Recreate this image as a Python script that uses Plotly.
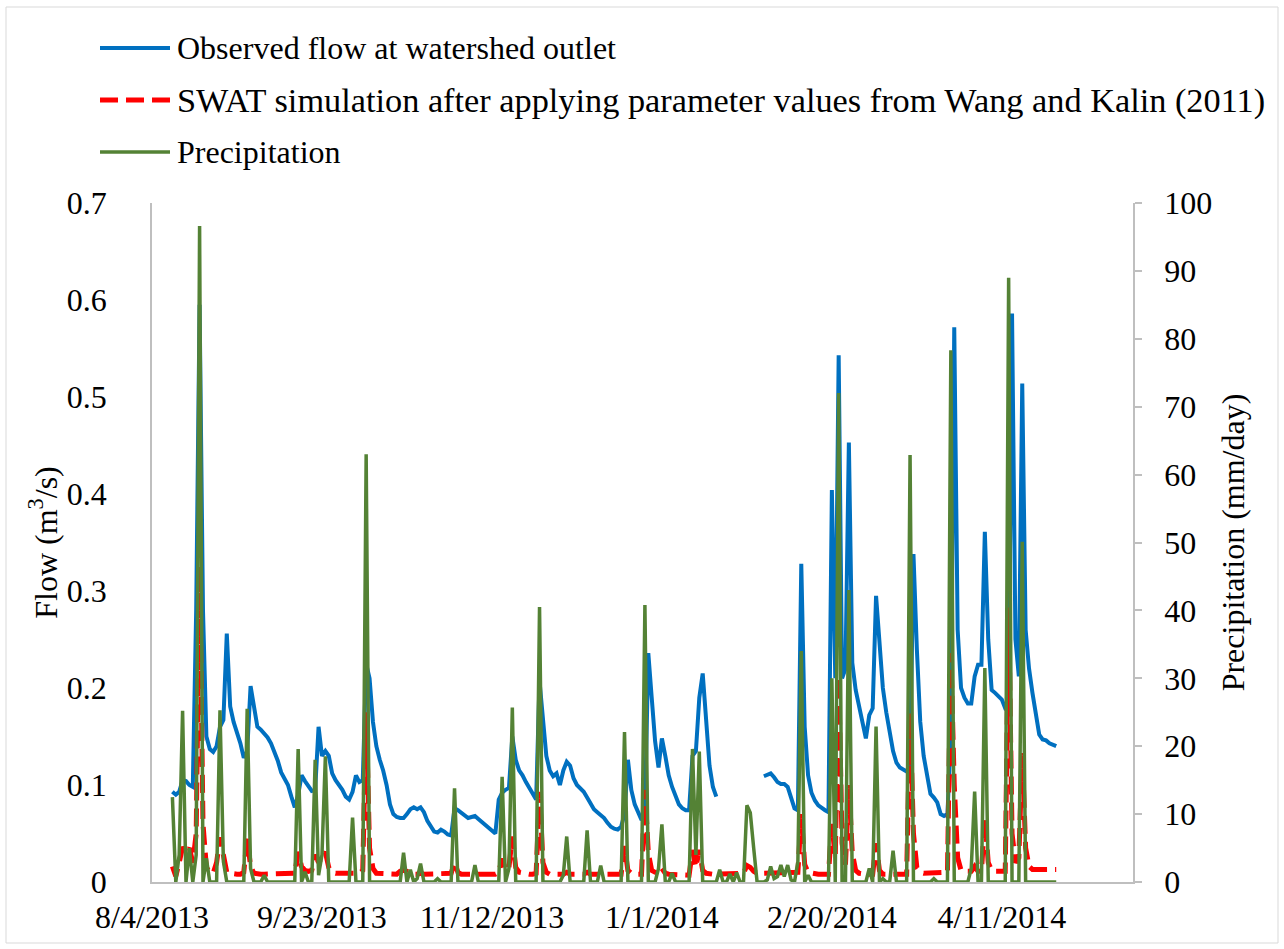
import pandas as pd
import plotly.graph_objects as go

# ---------------- data (daily, starting 8/10/2013) ----------------
start_date = "2013-08-10"

flow_obs = [
    0.093, 0.090, 0.093, 0.105, 0.104, 0.100, 0.098, 0.280, 0.595, 0.280,
    0.150, 0.137, 0.134, 0.140, 0.160, 0.167, 0.256, 0.181, 0.165, 0.155,
    0.143, 0.128, 0.135, 0.202, 0.180, 0.160, 0.157, 0.153, 0.149, 0.143,
    0.135, 0.125, 0.113, 0.107, 0.100, 0.088, 0.077, 0.090, 0.110, 0.104,
    0.099, 0.094, 0.095, 0.160, 0.130, 0.135, 0.130, 0.112, 0.105, 0.100,
    0.095, 0.088, 0.085, 0.093, 0.110, 0.103, 0.105, 0.225, 0.210, 0.165,
    0.140, 0.126, 0.115, 0.100, 0.080, 0.070, 0.067, 0.066, 0.066, 0.070,
    0.075, 0.077, 0.075, 0.077, 0.072, 0.063, 0.057, 0.052, 0.051, 0.054,
    0.052, 0.049, 0.048, 0.076, 0.074, 0.071, 0.068, 0.066, 0.067, 0.068,
    0.065, 0.062, 0.059, 0.056, 0.053, 0.050, 0.085, 0.092, 0.095, 0.097,
    0.150, 0.126, 0.115, 0.110, 0.103, 0.097, 0.091, 0.085, 0.207, 0.170,
    0.130, 0.115, 0.109, 0.112, 0.100, 0.115, 0.124, 0.120, 0.107, 0.100,
    0.096, 0.093, 0.087, 0.080, 0.075, 0.072, 0.069, 0.066, 0.061, 0.057,
    0.055, 0.054, 0.057, 0.070, 0.126, 0.095, 0.080, 0.071, 0.064, 0.070,
    0.236, 0.190, 0.145, 0.118, 0.148, 0.130, 0.110, 0.098, 0.090, 0.080,
    0.076, 0.074, 0.074, 0.130, 0.135, 0.190, 0.215, 0.160, 0.120, 0.098,
    0.088, None, None, None, None, None, None, None, None, None,
    None, None, None, None, 0.109, 0.110, 0.112, 0.108, 0.103, 0.101,
    0.101, 0.098, 0.088, 0.076, 0.074, 0.328, 0.160, 0.110, 0.092, 0.084,
    0.079, 0.076, 0.074, 0.072, 0.404, 0.210, 0.543, 0.210, 0.220, 0.453,
    0.226, 0.198, 0.180, 0.165, 0.148, 0.172, 0.179, 0.295, 0.245, 0.200,
    0.175, 0.153, 0.135, 0.123, 0.118, 0.116, 0.114, 0.120, 0.338, 0.240,
    0.165, 0.130, 0.108, 0.091, 0.087, 0.082, 0.070, 0.068, 0.070, 0.150,
    0.572, 0.260, 0.200, 0.190, 0.184, 0.184, 0.212, 0.224, 0.224, 0.361,
    0.250, 0.198, 0.195, 0.191, 0.188, 0.179, 0.180, 0.586, 0.250, 0.212,
    0.514, 0.260, 0.220, 0.195, 0.172, 0.152, 0.147, 0.146, 0.143, 0.142,
    0.140,
]

flow_swat = [
    0.016, 0.006, 0.020, 0.036, 0.030, 0.035, 0.020, 0.050, 0.325, 0.060,
    0.015, 0.010, 0.009, 0.020, 0.046, 0.025, 0.010, 0.009, 0.008, 0.008,
    0.008, 0.010, 0.046, 0.016, 0.009, 0.008, 0.008, 0.008, 0.008, 0.008,
    0.008, 0.008, 0.008, 0.008, 0.008, 0.008, 0.009, 0.031, 0.016, 0.012,
    0.011, 0.012, 0.028, 0.020, 0.025, 0.031, 0.015, 0.010, 0.009, 0.009,
    0.009, 0.009, 0.009, 0.009, 0.009, 0.009, 0.012, 0.175, 0.035, 0.014,
    0.009, 0.009, 0.009, 0.009, 0.008, 0.008, 0.008, 0.011, 0.012, 0.011,
    0.009, 0.008, 0.008, 0.009, 0.008, 0.008, 0.008, 0.008, 0.008, 0.008,
    0.008, 0.008, 0.009, 0.020, 0.010, 0.008, 0.008, 0.008, 0.008, 0.009,
    0.008, 0.008, 0.008, 0.008, 0.008, 0.008, 0.010, 0.024, 0.012, 0.015,
    0.047, 0.015, 0.010, 0.009, 0.008, 0.008, 0.008, 0.009, 0.093, 0.020,
    0.010, 0.008, 0.008, 0.008, 0.008, 0.008, 0.010, 0.008, 0.008, 0.008,
    0.008, 0.008, 0.010, 0.008, 0.008, 0.008, 0.008, 0.008, 0.007, 0.007,
    0.007, 0.007, 0.008, 0.037, 0.012, 0.009, 0.008, 0.008, 0.008, 0.095,
    0.030, 0.012, 0.010, 0.009, 0.014, 0.009, 0.008, 0.008, 0.007, 0.007,
    0.007, 0.007, 0.007, 0.033, 0.015, 0.033, 0.012, 0.009, 0.008, 0.008,
    0.008, 0.008, 0.008, 0.008, 0.008, 0.008, 0.008, 0.008, 0.009, 0.017,
    0.015, 0.011, 0.009, 0.009, 0.009, 0.009, 0.009, 0.009, 0.009, 0.009,
    0.009, 0.009, 0.009, 0.009, 0.010, 0.070, 0.018, 0.010, 0.009, 0.008,
    0.008, 0.008, 0.008, 0.008, 0.060, 0.025, 0.212, 0.040, 0.018, 0.100,
    0.030, 0.012, 0.009, 0.008, 0.008, 0.008, 0.008, 0.040, 0.012, 0.008,
    0.008, 0.008, 0.009, 0.008, 0.008, 0.008, 0.008, 0.174, 0.050, 0.015,
    0.010, 0.009, 0.009, 0.009, 0.009, 0.009, 0.010, 0.010, 0.010, 0.236,
    0.100, 0.025, 0.012, 0.011, 0.011, 0.011, 0.016, 0.011, 0.011, 0.066,
    0.020, 0.012, 0.011, 0.011, 0.011, 0.011, 0.283, 0.050, 0.020, 0.025,
    0.133, 0.035, 0.016, 0.013, 0.013, 0.013, 0.013, 0.013, 0.013, 0.013,
    0.013,
]

precip = [
    12.5, 0, 4, 25.2, 0, 5, 0, 4, 96.6, 0,
    3.5, 0, 0, 0, 25.3, 3, 0, 0, 0, 0,
    0, 0, 25.5, 2, 0, 0, 0, 1, 0, 0,
    0, 0, 0, 0, 0, 0, 0, 19.6, 0, 1.5,
    0, 0, 18, 1, 4, 18.5, 0, 0, 0, 0,
    0, 0, 0, 9.5, 0, 0, 0, 63, 0, 0,
    0, 0, 0, 0, 0, 0, 0, 0, 4.3, 0,
    1.8, 0, 0.5, 2.7, 0, 0, 0, 0, 0.5, 0,
    0, 0, 0, 13.8, 0, 0, 0, 0, 0, 2.5,
    0, 0, 0, 0, 0, 0, 0, 15.5, 0, 2,
    25.7, 0, 0, 0, 0, 0, 0, 0, 40.5, 0,
    0, 0, 0, 0, 0, 1, 6.7, 0, 0, 0,
    0, 0, 7.6, 0, 0, 0, 2.4, 0, 0, 0,
    0, 0, 0, 22.1, 0, 0, 0, 0, 0, 40.8,
    0, 0, 0, 2, 8.5, 0, 0, 1.3, 0, 0,
    0, 0, 0, 19.6, 4, 19.2, 0, 0, 0, 0,
    0, 1.8, 0, 0, 1.2, 0, 1.4, 0, 0, 11.3,
    10.2, 5, 0, 0, 0, 0.3, 2.3, 0.5, 0.8, 2.5,
    0.8, 2.5, 0.3, 0, 3, 34, 0, 1, 0, 0,
    0, 0, 0, 0, 30, 0, 72, 0, 0, 43,
    0, 0, 0, 0, 0, 2, 0, 22.9, 0, 0.5,
    0, 0, 4.6, 0, 0, 0, 0, 62.9, 0, 0,
    0, 0, 0, 0, 0.5, 0, 0, 0, 0, 78.3,
    0, 0, 0, 0, 0, 2, 13.3, 0, 0, 31.5,
    0, 0, 0, 0, 0, 0, 89, 0, 0, 0,
    50.1, 0, 0, 0, 0, 0, 0, 0, 0, 0,
    0,
]

tick_dates = ["2013-08-04", "2013-09-23", "2013-11-12", "2014-01-01", "2014-02-20", "2014-04-11"]
tick_labels = ["8/4/2013", "9/23/2013", "11/12/2013", "1/1/2014", "2/20/2014", "4/11/2014"]
flow_ticks = [0, 0.1, 0.2, 0.3, 0.4, 0.5, 0.6, 0.7]
precip_ticks = [0, 10, 20, 30, 40, 50, 60, 70, 80, 90, 100]

series_names = [
    "Observed flow at watershed outlet",
    "SWAT simulation after applying parameter values from Wang and Kalin (2011)",
    "Precipitation",
]

dates = pd.date_range(start=start_date, periods=len(flow_obs), freq="D")

# ---------------- layout geometry (pixels) ----------------
WIDTH, HEIGHT = 1284, 949
PL, PR, PT, PB = 152, 1133, 203, 882   # plot area edges
FONT = "Liberation Serif, Times New Roman, serif"
FS = 32
AXIS_GREY = "#bfbfbf"

BLUE = "#0070C0"
RED = "#FF0000"
GREEN = "#548235"
RED_DASH = "18px,8px"


def px_x(px):
    return (px - PL) / (PR - PL)


def px_y(py):
    return (PB - py) / (PB - PT)


fig = go.Figure()
fig.add_trace(go.Scatter(x=dates, y=flow_obs, mode="lines", name=series_names[0],
                         line=dict(color=BLUE, width=4), connectgaps=False, yaxis="y"))
fig.add_trace(go.Scatter(x=dates, y=flow_swat, mode="lines", name=series_names[1],
                         line=dict(color=RED, width=5, dash=RED_DASH), yaxis="y"))
fig.add_trace(go.Scatter(x=dates, y=precip, mode="lines", name=series_names[2],
                         line=dict(color=GREEN, width=3.5), yaxis="y2"))

# manual legend (long line samples as in the original)
legend_rows = [48, 100, 152]
legend_sizes = [FS, 34.3, FS]
legend_styles = [
    dict(color=BLUE, width=4),
    dict(color=RED, width=5, dash=RED_DASH),
    dict(color=GREEN, width=3.5),
]
shapes = []
annotations = []
for name, ry, st, fs in zip(series_names, legend_rows, legend_styles, legend_sizes):
    shapes.append(dict(type="line", xref="paper", yref="paper",
                       x0=px_x(100), x1=px_x(170), y0=px_y(ry), y1=px_y(ry), line=st))
    annotations.append(dict(text=name, xref="paper", yref="paper", x=px_x(175), y=px_y(ry),
                            xanchor="left", yanchor="middle", showarrow=False,
                            font=dict(family=FONT, size=fs, color="black")))

# chart-area border
shapes.append(dict(type="rect", xref="paper", yref="paper",
                   x0=px_x(6), x1=px_x(1278), y0=px_y(943), y1=px_y(7),
                   line=dict(color="#d9d9d9", width=1), fillcolor="rgba(0,0,0,0)", layer="below"))

fig.update_layout(
    width=WIDTH, height=HEIGHT,
    margin=dict(l=PL, r=WIDTH - PR, t=PT, b=HEIGHT - PB, pad=0),
    paper_bgcolor="white", plot_bgcolor="white",
    showlegend=False,
    font=dict(family=FONT, size=FS, color="black"),
    xaxis=dict(type="date", range=["2013-08-04", "2014-05-19 14:00"],
               tickvals=tick_dates, ticktext=tick_labels, ticks="",
               ticklabelstandoff=6,
               showline=True, linecolor=AXIS_GREY, linewidth=1.5,
               showgrid=False, zeroline=False, tickfont=dict(size=FS)),
    yaxis=dict(range=[0, 0.7], tickvals=flow_ticks, ticktext=[f"{v:g}" for v in flow_ticks],
               ticks="", showline=True, linecolor=AXIS_GREY, linewidth=1.5,
               ticklabelstandoff=37,
               showgrid=False, zeroline=False, tickfont=dict(size=FS),
               title=dict(text="Flow (m<sup>3</sup>/s)", font=dict(size=FS), standoff=0)),
    yaxis2=dict(range=[0, 100], tickvals=precip_ticks, overlaying="y", side="right",
                ticks="outside", ticklen=7, tickcolor=AXIS_GREY, tickwidth=1.5,
                ticklabelstandoff=16,
                showline=True, linecolor=AXIS_GREY, linewidth=1.5,
                showgrid=False, zeroline=False, tickfont=dict(size=FS),
                title=dict(text="Precipitation (mm/day)", font=dict(size=FS), standoff=10)),
    shapes=shapes,
    annotations=annotations,
)

fig.write_html("out.html")
